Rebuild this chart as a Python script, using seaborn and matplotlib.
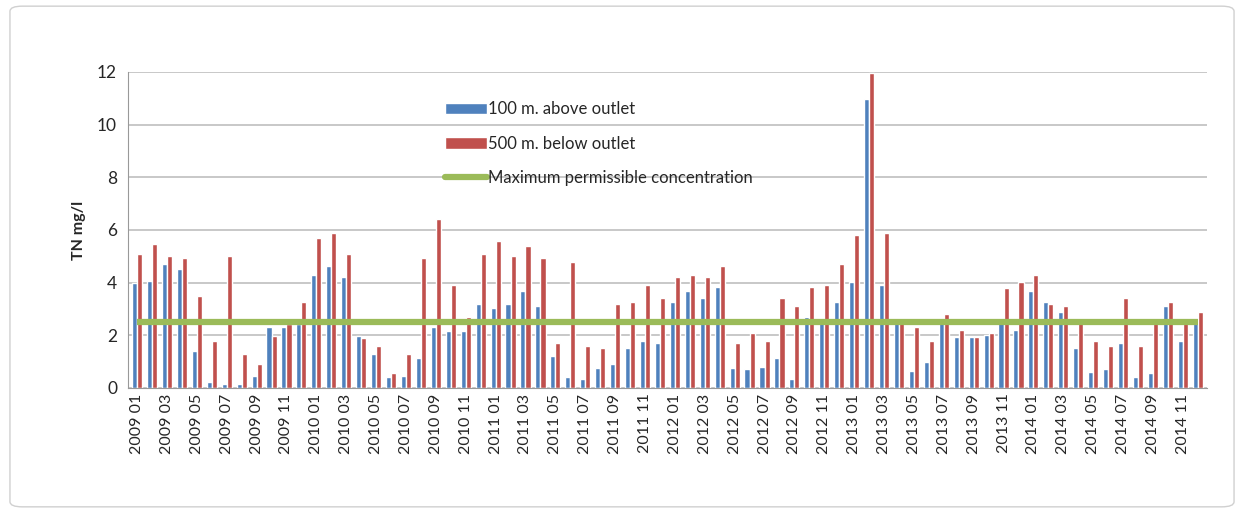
import numpy as np
import pandas as pd
import matplotlib
matplotlib.use("Agg")
import matplotlib.pyplot as plt
import seaborn as sns
from matplotlib.lines import Line2D
from matplotlib.patches import Patch, FancyBboxPatch

# Monthly TN concentrations, Jan 2009 - Dec 2014
years = [2009, 2010, 2011, 2012, 2013, 2014]
months = [f"{y} {m:02d}" for y in years for m in range(1, 13)]

above_outlet = [
    4.0, 4.08, 4.7, 4.53, 1.39, 0.24, 0.14, 0.14, 0.46, 2.32, 2.32, 2.43,
    4.3, 4.62, 4.22, 1.98, 1.3, 0.41, 0.46, 1.12, 2.32, 2.18, 2.18, 3.19,
    3.02, 3.19, 3.69, 3.1, 1.21, 0.41, 0.36, 0.76, 0.9, 1.51, 1.78, 1.69,
    3.28, 3.69, 3.42, 3.83, 0.76, 0.73, 0.81, 1.12, 0.36, 2.71, 2.48, 3.28,
    4.01, 10.99, 3.9, 2.46, 0.65, 1.0, 2.46, 1.92, 1.92, 2.0, 2.46, 2.2,
    3.69, 3.28, 2.88, 1.51, 0.59, 0.73, 1.69, 0.41, 0.55, 3.1, 1.78, 2.45,
]
below_outlet = [
    5.1, 5.48, 5.0, 4.92, 3.5, 1.78, 5.0, 1.3, 0.9, 1.98, 2.43, 3.28,
    5.71, 5.89, 5.09, 1.91, 1.6, 0.55, 1.3, 4.92, 6.42, 3.9, 2.71, 5.09,
    5.6, 5.01, 5.41, 4.92, 1.69, 4.78, 1.6, 1.51, 3.19, 3.28, 3.9, 3.42,
    4.22, 4.3, 4.22, 4.62, 1.69, 2.09, 1.78, 3.42, 3.1, 3.83, 3.9, 4.7,
    5.8, 11.97, 5.89, 2.46, 2.33, 1.8, 2.81, 2.2, 1.92, 2.1, 3.81, 4.01,
    4.3, 3.19, 3.1, 2.45, 1.78, 1.6, 3.42, 1.6, 2.45, 3.28, 2.45, 2.88,
]
max_permissible = 2.5

series_names = ["100 m. above outlet", "500 m. below outlet"]
limit_name = "Maximum permissible concentration"

df = pd.DataFrame({
    "month": months * 2,
    "value": above_outlet + below_outlet,
    "site": [series_names[0]] * len(months) + [series_names[1]] * len(months),
})

blue = "#4F81BD"
red = "#C0504D"
green = "#9BBB59"

sns.set_style("white")
plt.rcParams["font.family"] = ["Lato", "DejaVu Sans"]

fig = plt.figure(figsize=(12.44, 5.13), dpi=100)
ax = fig.add_axes([0.103, 0.2437, 0.867, 0.616])

sns.barplot(data=df, x="month", y="value", hue="site", order=months,
            hue_order=series_names, palette=[blue, red], width=0.68,
            dodge=True, ax=ax, legend=False, saturation=1)

ax.plot(np.arange(len(months)), [max_permissible] * len(months),
        color=green, lw=4.5, solid_capstyle="butt", zorder=3)

ax.set_ylim(0, 12)
ax.set_yticks(np.arange(0, 13, 2))
ax.set_xlim(-0.6, len(months) - 0.4)
ax.yaxis.grid(True, color="#BFBFBF", lw=1.2)
ax.set_axisbelow(True)
ax.set_xticks(np.arange(0, len(months), 2))
ax.set_xticklabels(months[::2], rotation=90, fontsize=11.5)
ax.tick_params(axis="y", labelsize=12.5, length=0, pad=8)
ax.tick_params(axis="x", length=0, pad=4)
ax.set_xlabel("")
ax.set_ylabel("TN mg/l", fontsize=11.5, fontweight="bold", labelpad=8)

for side in ["top", "right"]:
    ax.spines[side].set_visible(False)
ax.spines["left"].set_color("#999999")
ax.spines["bottom"].set_color("#999999")

handles = [
    Patch(facecolor=blue),
    Patch(facecolor=red),
    Line2D([], [], color=green, lw=4.5),
]
ax.legend(handles=handles,
          labels=[series_names[0], series_names[1], limit_name],
          loc="upper left", bbox_to_anchor=(0.28, 0.955), frameon=False,
          fontsize=12, handlelength=2.5, handleheight=0.7,
          handletextpad=0.1, labelspacing=1.1)

fig.patches.append(FancyBboxPatch((0.008, 0.012), 0.984, 0.976,
                                  boxstyle="round,pad=0,rounding_size=0.01",
                                  transform=fig.transFigure, fill=False,
                                  edgecolor="#D0D0D0", lw=1))

fig.savefig("out.png", dpi=100)
